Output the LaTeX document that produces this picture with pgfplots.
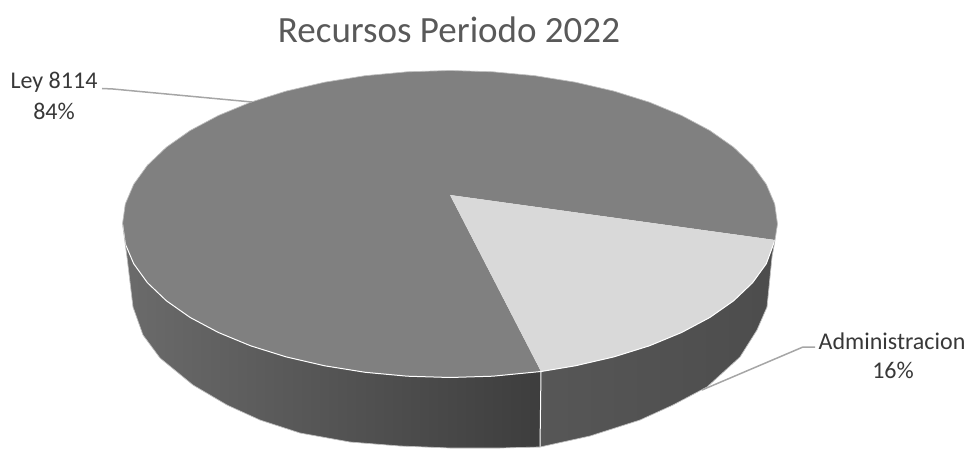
\documentclass[border=0pt]{standalone}
\usepackage{pgfplots}
\usepackage{fontspec}
\setmainfont{Carlito}
\pgfplotsset{compat=1.18}
\definecolor{topdark}{gray}{0.50}
\definecolor{toplight}{gray}{0.85}
\definecolor{leader}{gray}{0.65}
\definecolor{titlegray}{gray}{0.35}
\definecolor{labelgray}{gray}{0.22}

\begin{document}
\begin{tikzpicture}
\begin{axis}[
    width=969pt, height=449pt, scale only axis,
    xmin=0, xmax=969, ymin=0, ymax=449,
    y dir=reverse,
    hide axis,
    enlargelimits=false,
]
% side wall, left part (84%)
\addplot[draw=none, left color=black!58, middle color=black!66, right color=black!76] coordinates {
    (122.5,224) (125.3,244) (133.7,263.7) (147.4,282.7) (166.4,300.8) (190.2,317.5) (218.4,332.5)
    (250.6,345.8) (286.2,356.9) (324.7,365.8) (365.2,372.3) (407.3,376.2) (450,377.5) (492.7,376.2)
    (541,371.5) (540,447) (500,448) (450,448) (400,446) (350,442) (300,433) (260,420) (227,405)
    (193,385) (160,358) (143,335) (133,307) (127,257) (122.5,224)
};
% side wall, right part (16%)
\addplot[draw=none, left color=black!66, right color=black!70] coordinates {
    (541,371.5) (575.3,365.8) (613.8,356.9) (649.4,345.8) (681.6,332.5) (709.8,317.5) (733.6,300.8)
    (752.6,282.7) (766.3,263.7) (775,240) (772,257) (767,307) (757,330) (740,357) (707,387)
    (673,405) (640,420) (590,436) (540,447) (541,371.5)
};
% top, 84% slice
\addplot[draw=none, fill=topdark] coordinates {
    (450,195) (775,240) (777.5,224) (774.7,204) (766.3,184.3) (752.6,165.3) (733.6,147.2) (709.8,130.5)
    (681.6,115.5) (649.4,102.2) (613.8,91.1) (575.3,82.2) (534.8,75.7) (492.7,71.8) (450,70.5)
    (407.3,71.8) (365.2,75.7) (324.7,82.2) (286.2,91.1) (250.6,102.2) (218.4,115.5) (190.2,130.5)
    (166.4,147.2) (147.4,165.3) (133.7,184.3) (125.3,204) (122.5,224) (125.3,244) (133.7,263.7)
    (147.4,282.7) (166.4,300.8) (190.2,317.5) (218.4,332.5) (250.6,345.8) (286.2,356.9) (324.7,365.8)
    (365.2,372.3) (407.3,376.2) (450,377.5) (492.7,376.2) (541,371.5) (450,195)
};
% top, 16% slice
\addplot[draw=none, fill=toplight] coordinates {
    (450,195) (541,371.5) (575.3,365.8) (613.8,356.9) (649.4,345.8) (681.6,332.5) (709.8,317.5)
    (733.6,300.8) (752.6,282.7) (766.3,263.7) (775,240) (450,195)
};
% white rim under the top face
\addplot[white, line width=1pt] coordinates {
    (122.5,224) (125.3,244) (133.7,263.7) (147.4,282.7) (166.4,300.8) (190.2,317.5) (218.4,332.5)
    (250.6,345.8) (286.2,356.9) (324.7,365.8) (365.2,372.3) (407.3,376.2) (450,377.5) (492.7,376.2)
    (541,371.5) (575.3,365.8) (613.8,356.9) (649.4,345.8) (681.6,332.5) (709.8,317.5) (733.6,300.8)
    (752.6,282.7) (766.3,263.7) (775,240)
};
% seam between the two slices on the wall
\addplot[white, line width=1pt] coordinates {(541,371.5) (540,447)};
% faint outline
\addplot[black!25, line width=0.7pt] coordinates {
    (775,240) (777.5,224) (774.7,204) (766.3,184.3) (752.6,165.3) (733.6,147.2) (709.8,130.5)
    (681.6,115.5) (649.4,102.2) (613.8,91.1) (575.3,82.2) (534.8,75.7) (492.7,71.8) (450,70.5)
    (407.3,71.8) (365.2,75.7) (324.7,82.2) (286.2,91.1) (250.6,102.2) (218.4,115.5) (190.2,130.5)
    (166.4,147.2) (147.4,165.3) (133.7,184.3) (125.3,204) (122.5,224) (127,257) (133,307) (143,335)
    (160,358) (193,385) (227,405) (260,420) (300,433) (350,442) (400,446) (450,448) (500,448)
    (540,447) (590,436) (640,420) (673,405) (707,387) (740,357) (757,330) (767,307) (772,257) (775,240)
};
% leader lines
\addplot[leader, line width=1.5pt] coordinates {(102,88.5) (113,89) (252,102)};
\addplot[leader, line width=1.5pt] coordinates {(815,347) (803,347) (702,390)};
% text
\node[text=titlegray, font=\fontsize{37}{40}\selectfont, anchor=center] at (axis cs:449,30) {Recursos Periodo 2022};
\node[text=labelgray, font=\fontsize{24}{26}\selectfont, anchor=center] at (axis cs:54,82) {Ley 8114};
\node[text=labelgray, font=\fontsize{24}{26}\selectfont, anchor=center] at (axis cs:54,111) {84\%};
\node[text=labelgray, font=\fontsize{24}{26}\selectfont, anchor=center] at (axis cs:892,341) {Administracion};
\node[text=labelgray, font=\fontsize{24}{26}\selectfont, anchor=center] at (axis cs:893,370) {16\%};
\end{axis}
\pgfresetboundingbox
\path[use as bounding box] (current axis.south west) rectangle (current axis.north east);
\end{tikzpicture}
\end{document}
